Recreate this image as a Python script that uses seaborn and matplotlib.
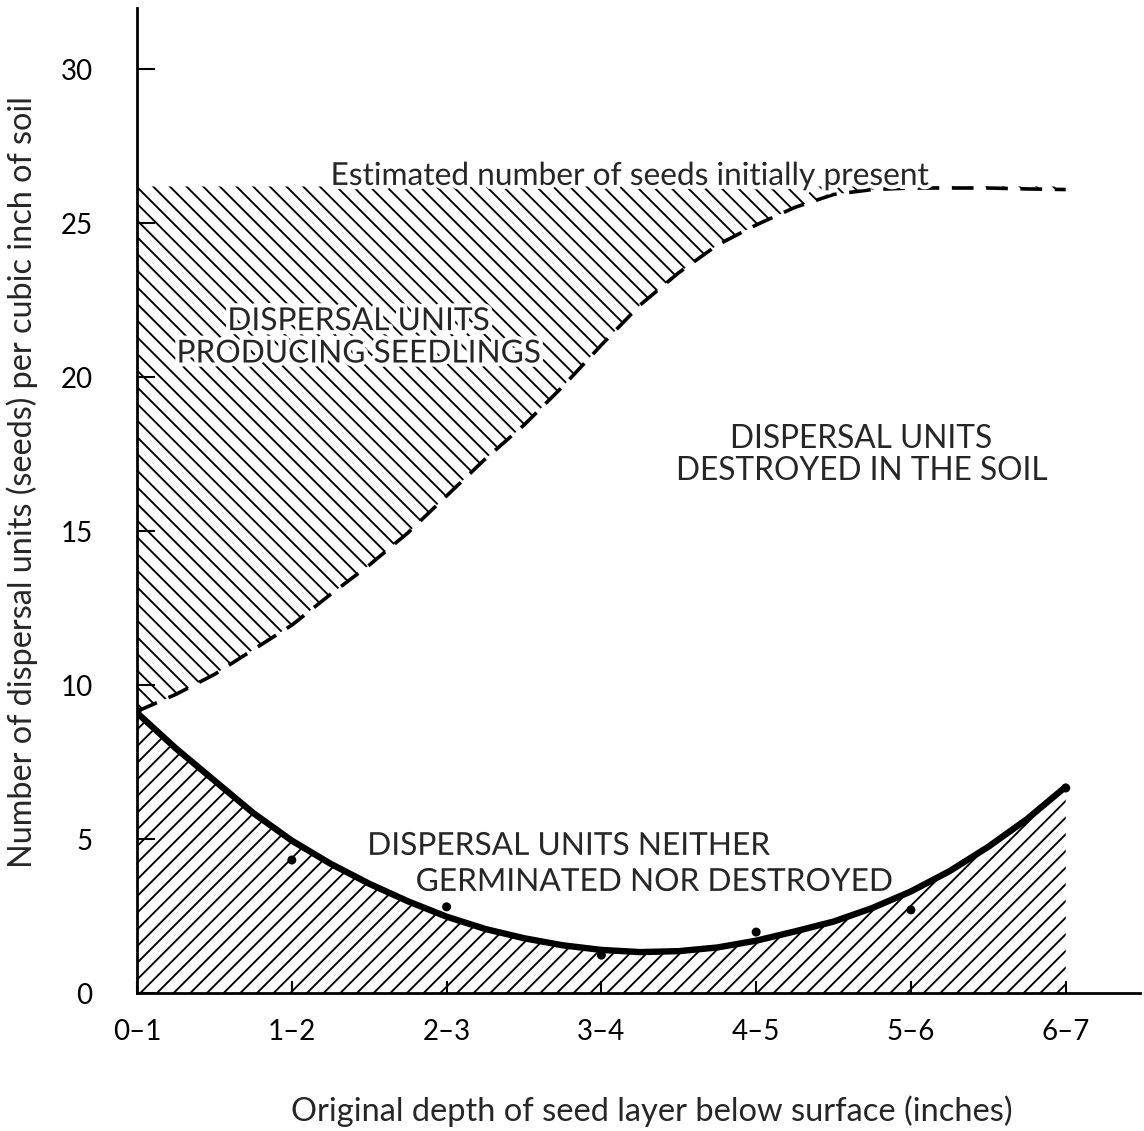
import matplotlib
matplotlib.use("Agg")
import matplotlib.pyplot as plt
import matplotlib.patheffects as pe
import seaborn as sns

# Depth classes of the buried seed layer (inches below surface)
depth_labels = ["0–1", "1–2", "2–3", "3–4", "4–5", "5–6", "6–7"]
depth_pos = [0, 1, 2, 3, 4, 5, 6]

# Observed dispersal units neither germinated nor destroyed
observed_remaining = [9.15, 4.32, 2.8, 1.23, 1.98, 2.7, 6.66]

# Positions along the depth axis for the smoothed curves
curve_depth = [0.0, 0.25, 0.5, 0.75, 1.0, 1.25, 1.5, 1.75, 2.0, 2.25, 2.5, 2.75,
               3.0, 3.25, 3.5, 3.75, 4.0, 4.25, 4.5, 4.75, 5.0, 5.25, 5.5, 5.75, 6.0]

# Fitted curve: units remaining in the soil
remaining_curve = [9.1, 7.95, 6.9, 5.85, 4.95, 4.2, 3.55, 2.98, 2.48, 2.08, 1.78, 1.55,
                   1.4, 1.33, 1.36, 1.48, 1.7, 2.0, 2.32, 2.76, 3.3, 3.96, 4.75, 5.65, 6.7]

# Dashed curve: initial estimate minus units that produced seedlings
after_seedlings_curve = [9.15, 9.7, 10.35, 11.15, 11.95, 12.95, 13.9, 14.95, 16.15, 17.35,
                         18.45, 19.7, 21.05, 22.35, 23.4, 24.3, 24.95, 25.52, 25.94, 26.1,
                         26.15, 26.15, 26.15, 26.12, 26.1]

# Estimated number of seeds initially present per cubic inch
initial_estimate = 26.2

y_ticks = [0, 5, 10, 15, 20, 25, 30]

sns.set_style("ticks")
plt.rcParams["font.family"] = ["Lato", "DejaVu Sans"]
plt.rcParams["hatch.linewidth"] = 1.35
plt.rcParams["hatch.color"] = "black"

fig, ax = plt.subplots(figsize=(11.44, 11.31), dpi=100)
fig.subplots_adjust(left=0.1198, right=0.9965, bottom=0.122, top=0.993)

# Hatched areas
ax.fill_between(curve_depth, after_seedlings_curve, initial_estimate,
                facecolor="none", edgecolor="black", hatch="\\\\", linewidth=0)
ax.fill_between(curve_depth, 0, remaining_curve,
                facecolor="none", edgecolor="black", hatch="//", linewidth=0)

# Curves and observations
sns.lineplot(x=curve_depth, y=after_seedlings_curve, color="black", linewidth=2.6,
             linestyle=(0, (6, 3.5)), ax=ax, zorder=4)
sns.lineplot(x=curve_depth, y=remaining_curve, color="black", linewidth=4.6,
             solid_capstyle="round", ax=ax, zorder=4)
sns.scatterplot(x=depth_pos, y=observed_remaining, color="black", s=42,
                edgecolor="none", ax=ax, zorder=5)

ax.set_xlim(0, 6.48)
ax.set_ylim(0, 32.0)
ax.set_xticks(depth_pos, depth_labels)
ax.set_yticks(y_ticks)
ax.tick_params(axis="y", direction="in", length=13, width=1.5, pad=32,
               labelsize=20, colors="black")
ax.tick_params(axis="x", direction="in", length=9, width=1.5, pad=19,
               labelsize=20, colors="black")
for side in ["top", "right"]:
    ax.spines[side].set_visible(False)
for side in ["left", "bottom"]:
    ax.spines[side].set_linewidth(2.0)
    ax.spines[side].set_color("black")

ax.set_xlabel("Original depth of seed layer below surface (inches)", fontsize=23.5)
ax.xaxis.set_label_coords(0.513, -0.104)
ax.set_ylabel("Number of dispersal units (seeds) per cubic inch of soil",
              fontsize=23.3, va="center")
ax.yaxis.set_label_coords(-0.115, 0.519)

knockout = [pe.withStroke(linewidth=6, foreground="white")]
ax.text(1.25, 26.25, "Estimated number of seeds initially present", fontsize=22.8,
        ha="left", va="baseline", path_effects=knockout, zorder=6)
ax.text(1.43, 21.3, "DISPERSAL UNITS\nPRODUCING SEEDLINGS", fontsize=22.8,
        ha="center", va="center", multialignment="center", linespacing=1.1,
        path_effects=knockout, zorder=6)
ax.text(4.68, 17.48, "DISPERSAL UNITS\nDESTROYED IN THE SOIL", fontsize=22.8,
        ha="center", va="center", multialignment="center", linespacing=1.1, zorder=6)
ax.text(1.487, 4.78, "DISPERSAL UNITS NEITHER", fontsize=22.8,
        ha="left", va="center", path_effects=knockout, zorder=6)
ax.text(1.80, 3.61, "GERMINATED NOR DESTROYED", fontsize=22.8,
        ha="left", va="center", path_effects=knockout, zorder=6)

fig.savefig("out.png", dpi=100, facecolor="white")
